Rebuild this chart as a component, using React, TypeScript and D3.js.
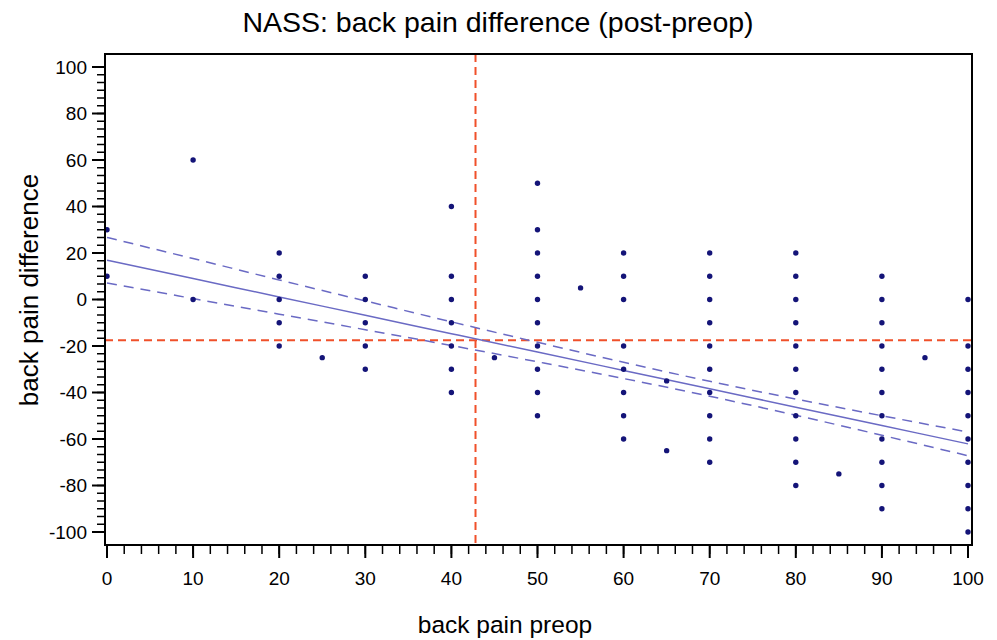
import React from 'react';
import * as d3 from 'd3';

// preop scores (x) and the differences seen at each of them
const preopValues = [0, 10, 20, 25, 30, 40, 45, 50, 55, 60, 65, 70, 80, 85, 90, 95, 100];
const differenceValues = [
  [30, 10],
  [60, 0],
  [20, 10, 0, -10, -20],
  [-25],
  [10, 0, -10, -20, -30],
  [40, 10, 0, -10, -20, -30, -40],
  [-25],
  [50, 30, 20, 10, 0, -10, -20, -30, -40, -50],
  [5],
  [20, 10, 0, -20, -30, -40, -50, -60],
  [-35, -65],
  [20, 10, 0, -10, -20, -30, -40, -50, -60, -70],
  [20, 10, 0, -10, -20, -30, -40, -50, -60, -70, -80],
  [-75],
  [10, 0, -10, -20, -30, -40, -50, -60, -70, -80, -90],
  [-25],
  [0, -20, -30, -40, -50, -60, -70, -80, -90, -100],
];

// regression line and its 95% confidence band
const fitX = [0, 10, 20, 30, 40, 50, 60, 70, 80, 90, 100];
const fitY = [16.9, 9.0, 1.1, -6.8, -14.7, -22.6, -30.5, -38.4, -46.3, -54.2, -62.1];
const bandUpper = [26.7, 17.6, 8.4, -0.6, -9.6, -18.4, -27.0, -35.2, -42.8, -50.0, -57.0];
const bandLower = [7.1, 0.4, -6.3, -13.0, -19.8, -26.8, -34.0, -41.6, -49.8, -58.4, -67.2];

const refX = 42.8;
const refY = -17.5;

const xTicks = [0, 10, 20, 30, 40, 50, 60, 70, 80, 90, 100];
const yTicks = [-100, -80, -60, -40, -20, 0, 20, 40, 60, 80, 100];

const W = 997, H = 640;
const frame = { left: 105, right: 972, top: 54, bottom: 545 };
const font = 'Arial, "Liberation Sans", Helvetica, sans-serif';

export default function App() {
  const x = d3.scaleLinear().domain([0, 100]).range([107, 968]);
  const y = d3.scaleLinear().domain([-100, 100]).range([532, 67]);

  const points = preopValues.flatMap((px, i) => differenceValues[i].map(v => [px, v]));
  const xMinor = d3.range(0, 100.01, 2);
  const yMinor = d3.range(-100, 100.01, 20 / 6);

  const line = (ys: number[]) =>
    d3.line<number>().x((d, i) => x(fitX[i])).y(d => y(d)).curve(d3.curveMonotoneX)(ys) || '';

  const blue = '#6a6ac4';
  const red = '#f0502a';

  return (
    <svg width={W} height={H} style={{ position: 'absolute', left: 0, top: 0, background: '#fff' }}
      fontFamily={font}>
      <text x={498} y={32} textAnchor="middle" fontSize={28.5}>NASS: back pain difference (post-preop)</text>

      {/* reference lines */}
      <line x1={x(refX)} x2={x(refX)} y1={frame.top} y2={frame.bottom} stroke={red} strokeWidth={2} strokeDasharray="8,5" />
      <line x1={frame.left} x2={frame.right} y1={y(refY)} y2={y(refY)} stroke={red} strokeWidth={2} strokeDasharray="8,5" />

      {/* regression + confidence band */}
      <path d={line(fitY)} fill="none" stroke={blue} strokeWidth={1.5} />
      <path d={line(bandUpper)} fill="none" stroke={blue} strokeWidth={1.5} strokeDasharray="10,7" />
      <path d={line(bandLower)} fill="none" stroke={blue} strokeWidth={1.5} strokeDasharray="10,7" />

      {points.map((p, i) => (
        <circle key={i} cx={x(p[0])} cy={y(p[1])} r={2.7} fill="#141478" />
      ))}

      {/* frame */}
      <rect x={frame.left} y={frame.top} width={frame.right - frame.left} height={frame.bottom - frame.top}
        fill="none" stroke="#000" strokeWidth={2} />

      {/* y axis ticks */}
      {yMinor.map((v, i) => (
        <line key={'ym' + i} x1={97} x2={frame.left} y1={y(v)} y2={y(v)} stroke="#000" strokeWidth={1.5} />
      ))}
      {yTicks.map(v => (
        <g key={'y' + v}>
          <line x1={92} x2={frame.left} y1={y(v)} y2={y(v)} stroke="#000" strokeWidth={2} />
          <text x={87} y={y(v)} dy="0.36em" textAnchor="end" fontSize={19}>{v}</text>
        </g>
      ))}

      {/* x axis ticks */}
      {xMinor.map((v, i) => (
        <line key={'xm' + i} x1={x(v)} x2={x(v)} y1={frame.bottom} y2={554} stroke="#000" strokeWidth={1.5} />
      ))}
      {xTicks.map(v => (
        <g key={'x' + v}>
          <line x1={x(v)} x2={x(v)} y1={frame.bottom} y2={558} stroke="#000" strokeWidth={2} />
          <text x={x(v)} y={585} textAnchor="middle" fontSize={19}>{v}</text>
        </g>
      ))}

      <text x={505} y={633} textAnchor="middle" fontSize={24.5}>back pain preop</text>
      <text transform={`translate(38, 290) rotate(-90)`} textAnchor="middle" fontSize={26}>back pain difference</text>
    </svg>
  );
}
